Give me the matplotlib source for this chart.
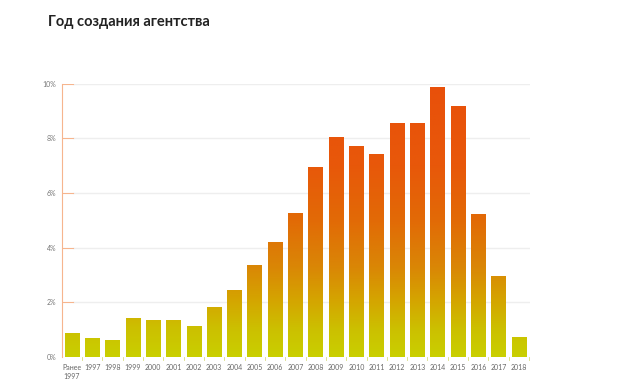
import numpy as np
import matplotlib
matplotlib.use("Agg")
import matplotlib.pyplot as plt
from matplotlib.colors import LinearSegmentedColormap

# data
labels = ["Ранее\n1997", "1997", "1998", "1999", "2000", "2001", "2002", "2003",
          "2004", "2005", "2006", "2007", "2008", "2009", "2010", "2011",
          "2012", "2013", "2014", "2015", "2016", "2017", "2018"]
values = [0.85, 0.66, 0.62, 1.42, 1.33, 1.33, 1.11, 1.8,
          2.44, 3.34, 4.2, 5.24, 6.94, 8.05, 7.7, 7.42,
          8.56, 8.56, 9.87, 9.19, 5.2, 2.95, 0.7]
yticks = [0, 2, 4, 6, 8, 10]

cmap = LinearSegmentedColormap.from_list(
    "grad", [(0.0, "#c9cf00"), (0.1, "#ccc000"), (0.2, "#d4a600"),
             (0.33, "#da8606"), (0.5, "#e26a06"), (0.7, "#e8580a"),
             (1.0, "#e8500a")])

fig = plt.figure(figsize=(6.2, 3.83), dpi=100)
ax = fig.add_axes([0.1, 0.068, 0.755, 0.713])

x = np.arange(len(values))
w = 0.72
grad = np.linspace(0, 10, 400).reshape(-1, 1)
for xi, v in zip(x, values):
    n = max(int(v / 10 * 400), 2)
    ax.imshow(grad[:n], cmap=cmap, vmin=0, vmax=10, aspect="auto",
              origin="lower", extent=[xi - w / 2, xi + w / 2, 0, v],
              interpolation="bilinear", zorder=3)

# grid lines (start a bit right of axis, orange ticks before them)
for t in yticks[1:]:
    ax.plot([0.05, 22.55], [t, t], color="#eeeeee", lw=1.0, zorder=1)
    ax.plot([-0.49, 0.05], [t, t], color="#f6b58e", lw=0.8, zorder=1)

ax.set_xlim(-0.49, 22.55)
ax.set_ylim(0, 10)
for s in ["top", "right", "bottom"]:
    ax.spines[s].set_visible(False)
ax.spines["left"].set_color("#f6b58e")
ax.spines["left"].set_linewidth(0.8)

ax.set_yticks(yticks)
ax.set_yticklabels([f"{t}%" for t in yticks], fontsize=5, color="#777777",
                   family="Lato")
ax.tick_params(axis="y", length=0, pad=4)

# small ticks between categories at the bottom
for b in np.arange(-0.5, len(values), 1.0)[1:]:
    ax.plot([b, b], [0, -0.12], color="#d8dc80", lw=0.6, clip_on=False)

ax.set_xticks(x)
ax.set_xticklabels(labels, fontsize=5, color="#666666", family="Lato",
                   linespacing=1.4, va="top")
ax.tick_params(axis="x", length=0, pad=5)

fig.text(0.077, 0.943, "Год создания агентства", fontsize=10.5, fontweight="bold",
         family="Lato", color="#222222", va="center")

fig.savefig("out.png", dpi=100)
